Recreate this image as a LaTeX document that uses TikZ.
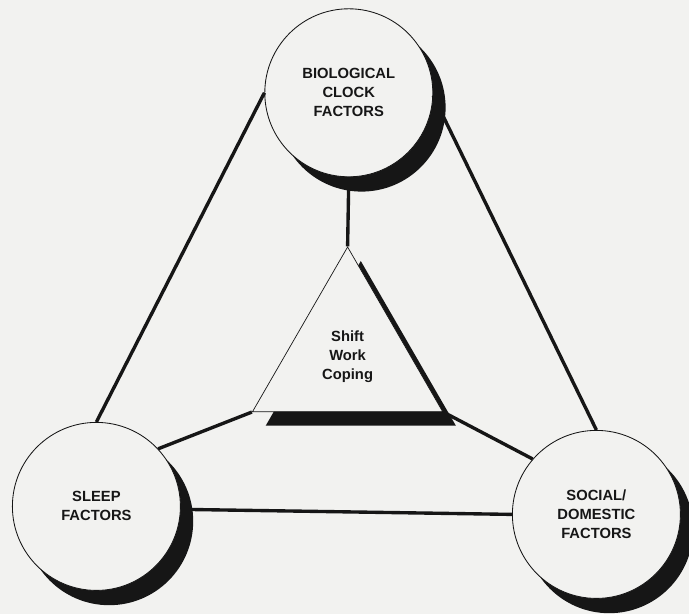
\documentclass[tikz,border=0pt]{standalone}
\usepackage{fontspec}
\setsansfont{Liberation Sans}
\usepackage{xcolor}
\usepackage{tikz}
\usetikzlibrary{shapes.geometric, shadows}
\definecolor{papercolor}{RGB}{242,242,240}
\definecolor{inkcolor}{RGB}{22,22,22}

\begin{document}
\begin{tikzpicture}[
    factor/.style={circle, draw=inkcolor, line width=0.6pt, fill=papercolor, minimum size=4.2cm, inner sep=0pt, align=center, text=inkcolor, font=\sffamily\bfseries\fontsize{10.5}{13.5}\selectfont, drop shadow={shadow xshift=0.32cm, shadow yshift=-0.37cm, fill=inkcolor, opacity=1}},
    coping/.style={regular polygon, regular polygon sides=3, draw=inkcolor, line width=0.5pt, fill=papercolor, minimum size=5.49cm, inner sep=0pt, align=center, text=inkcolor, font=\sffamily\bfseries\fontsize{10.5}{13.5}\selectfont, drop shadow={shadow xshift=0.33cm, shadow yshift=-0.35cm, fill=inkcolor, opacity=1}},
    link/.style={line width=2.4pt, inkcolor}
]
    \useasboundingbox (0,0) rectangle (17.225,15.35);
    \fill[papercolor] (0,0) rectangle (17.225,15.35);

    \node[factor] (bio) at (8.72,13.03) {BIOLOGICAL\\CLOCK\\FACTORS};
    \node[factor] (sleep) at (2.41,2.69) {SLEEP\\FACTORS};
    \node[factor] (social) at (14.91,2.49) {SOCIAL/\\DOMESTIC\\FACTORS};
    \node[coping] (shift) at (8.69,6.43) {Shift\\Work\\Coping};

    \draw[link] (bio.180) -- (sleep.90);
    \draw[link] (bio.-2) -- (social.90);
    \draw[link] (sleep.-2) -- (social.180);
    \draw[link] (bio.-90) -- (shift.corner 1);
    \draw[link] (shift.corner 2) -- (sleep.43);
    \draw[link] (shift.corner 3) -- (social.139);
\end{tikzpicture}
\end{document}
